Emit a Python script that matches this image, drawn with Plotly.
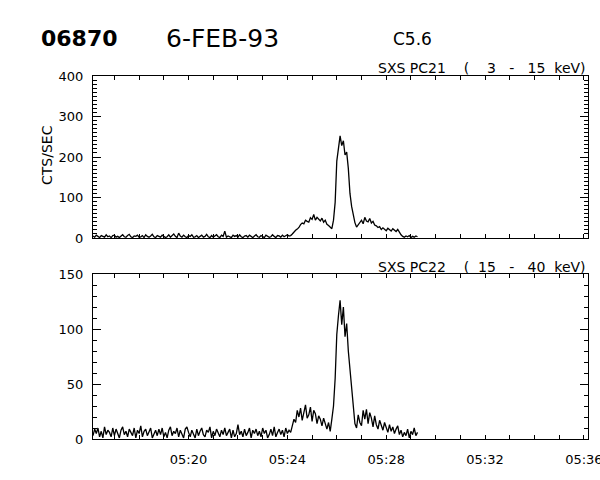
import pandas as pd
import plotly.graph_objects as go

# ---------------- data ----------------
start_time = "1993-02-06 05:16:08"
cadence = "4s"

pc21_counts = [
    5, 2, 7, 3, 1, 6, 4, 2, 8, 3, 5, 1, 6, 7, 2, 4, 1, 5, 8, 3,
    2, 6, 9, 3, 1, 5, 4, 7, 2, 3, 6, 1, 8, 4, 2, 5, 9, 3, 1, 6,
    4, 2, 7, 5, 1, 3, 8, 2, 6, 10, 4, 1, 12, 5, 2, 7, 3, 1, 6, 4,
    8, 2, 3, 6, 1, 5, 7, 2, 4, 9, 3, 1, 6, 2, 5, 8, 3, 1, 7, 4,
    17, 2, 5, 3, 1, 7, 4, 6, 2, 8, 3, 1, 5, 6, 2, 7, 4, 1, 5, 8,
    3, 2, 6, 4, 1, 7, 5, 2, 3, 8, 4, 1, 6, 5, 2, 7, 3, 6, 8, 5,
    6, 10, 15, 19, 22, 26, 33, 37, 35, 44, 41, 39, 50, 46, 58, 44, 51, 47, 42, 49,
    39, 44, 34, 31, 26, 23, 44, 88, 190, 222, 252, 228, 240, 205, 212, 172, 110, 78, 55, 38,
    27, 33, 37, 44, 35, 51, 42, 40, 48, 37, 41, 32, 30, 26, 28, 21, 25, 22, 18, 24,
    20, 17, 23, 19, 16, 21, 14, 8, 4, 2, 5, 3, 6, 1, 4, 2, 5, 3,
]

pc22_counts = [
    3, 9, 5, 10, 2, 7, 1, 11, 4, 8, 6, 2, 10, 3, 9, 5, 1, 8, 11, 4,
    7, 2, 9, 6, 3, 10, 1, 8, 5, 12, 2, 7, 9, 3, 6, 10, 1, 5, 8, 3,
    9, 4, 10, 2, 6, 1, 8, 11, 3, 7, 5, 10, 2, 8, 4, 1, 9, 11, 6, 2,
    8, 5, 1, 9, 3, 7, 10, 4, 2, 8, 6, 11, 1, 7, 3, 9, 5, 2, 8, 4,
    10, 3, 6, 9, 1, 8, 2, 5, 13, 4, 7, 2, 9, 3, 6, 10, 1, 8, 5, 9,
    3, 7, 2, 10, 5, 8, 1, 4, 9, 3, 11, 2, 6, 9, 4, 8, 2, 10, 5, 8,
    6, 12, 18, 15, 26, 20, 28, 17, 24, 31, 19, 22, 29, 16, 26, 23, 14, 21, 18, 12,
    19, 13, 9, 15, 7, 18, 30, 55, 95, 112, 126, 104, 120, 93, 105, 80, 64, 44, 27, 14,
    10, 22, 15, 12, 26, 18, 27, 14, 24, 19, 11, 21, 13, 9, 17, 12, 8, 15, 10, 6,
    13, 7, 11, 5, 9, 12, 4, 8, 2, 6, 3, 9, 1, 7, 4, 10, 3, 6,
]

top_yticks = [0, 100, 200, 300, 400]
bottom_yticks = [0, 50, 100, 150]
x_range = ["1993-02-06 05:16:08", "1993-02-06 05:36:10"]

times_21 = pd.date_range(start_time, periods=len(pc21_counts), freq=cadence)
times_22 = pd.date_range(start_time, periods=len(pc22_counts), freq=cadence)

# ---------------- figure ----------------
FONT = "DejaVu Sans"
fig = go.Figure()
fig.add_trace(go.Scatter(x=times_21, y=pc21_counts, mode="lines",
                         line=dict(color="black", width=1.3),
                         xaxis="x", yaxis="y", showlegend=False, hoverinfo="skip"))
fig.add_trace(go.Scatter(x=times_22, y=pc22_counts, mode="lines",
                         line=dict(color="black", width=1.3),
                         xaxis="x2", yaxis="y2", showlegend=False, hoverinfo="skip"))

L, R, T, B = 93, 12, 76, 41
W, H = 600, 480
pw, ph = W - L - R, H - T - B


def px(xp):
    return (xp - L) / pw


def py(yp):
    return (H - B - yp) / ph


xcommon = dict(type="date", range=x_range, showgrid=False, zeroline=False,
               showline=True, linecolor="black", linewidth=1, mirror="allticks",
               ticks="inside", ticklen=4, tickcolor="black", automargin=False,
               tick0="1993-02-06 05:20:00", dtick=240000, tickformat="%H:%M",
               minor=dict(dtick=60000, ticks="inside", ticklen=4, tickcolor="black",
                          showgrid=False),
               ticklabeloverflow="allow",
               tickfont=dict(family=FONT, size=13, color="black"))
ycommon = dict(showgrid=False, zeroline=False, showline=True, linecolor="black",
               linewidth=1, mirror="allticks", ticks="inside", ticklen=8,
               tickcolor="black", tickmode="array", automargin=False,
               minor=dict(dtick=10, ticks="inside", ticklen=4, tickcolor="black",
                          showgrid=False),
               tickfont=dict(family=FONT, size=13, color="black"),
               ticklabelstandoff=6)

top_dom = [py(238), 1.0]
bot_dom = [0.0, py(274)]

fig.update_layout(
    template="none",
    width=W, height=H, autosize=False,
    margin=dict(l=L, r=R, t=T, b=B, pad=0, autoexpand=False),
    paper_bgcolor="white", plot_bgcolor="white",
    showlegend=False,
    xaxis=dict(xcommon, domain=[0, 1], anchor="y", showticklabels=False),
    yaxis=dict(ycommon, domain=top_dom, anchor="x", range=[0, 400],
               tickvals=top_yticks),
    xaxis2=dict(xcommon, domain=[0, 1], anchor="y2", showticklabels=True,
                ticklabelstandoff=8),
    yaxis2=dict(ycommon, domain=bot_dom, anchor="x2", range=[0, 150],
                tickvals=bottom_yticks),
)

ann = [
    dict(text="<b>06870</b>", x=px(79), y=py(38), size=22),
    dict(text="6-FEB-93", x=px(222), y=py(38), size=25),
    dict(text="C5.6", x=px(412), y=py(39), size=17),
]
for a in ann:
    fig.add_annotation(text=a["text"], x=a["x"], y=a["y"], xref="paper", yref="paper",
                       showarrow=False, xanchor="center", yanchor="middle",
                       font=dict(family=FONT, size=a["size"], color="black"))

nb = "\u00a0"
lab21 = ("SXS" + nb + "PC21" + nb * 4 + "(" + nb * 4 + "3" + nb * 3 + "-" + nb * 3
         + "15" + nb * 2 + "keV)")
lab22 = ("SXS" + nb + "PC22" + nb * 4 + "(" + nb * 2 + "15" + nb * 3 + "-" + nb * 3
         + "40" + nb * 2 + "keV)")
for text, yp in [(lab21, 68.5), (lab22, 266.5)]:
    fig.add_annotation(text=text, x=1.0, y=py(yp), xref="paper", yref="paper",
                       showarrow=False, xanchor="right", yanchor="middle",
                       font=dict(family=FONT, size=14, color="black"))

fig.add_annotation(text="CTS/SEC", x=px(47), y=py(155), xref="paper", yref="paper",
                   showarrow=False, textangle=-90, xanchor="center", yanchor="middle",
                   font=dict(family=FONT, size=14, color="black"))

fig.write_html("out.html", config={"displayModeBar": False, "responsive": False},
               post_script="document.body.style.margin='0';"
                           "document.body.style.overflow='hidden';")
